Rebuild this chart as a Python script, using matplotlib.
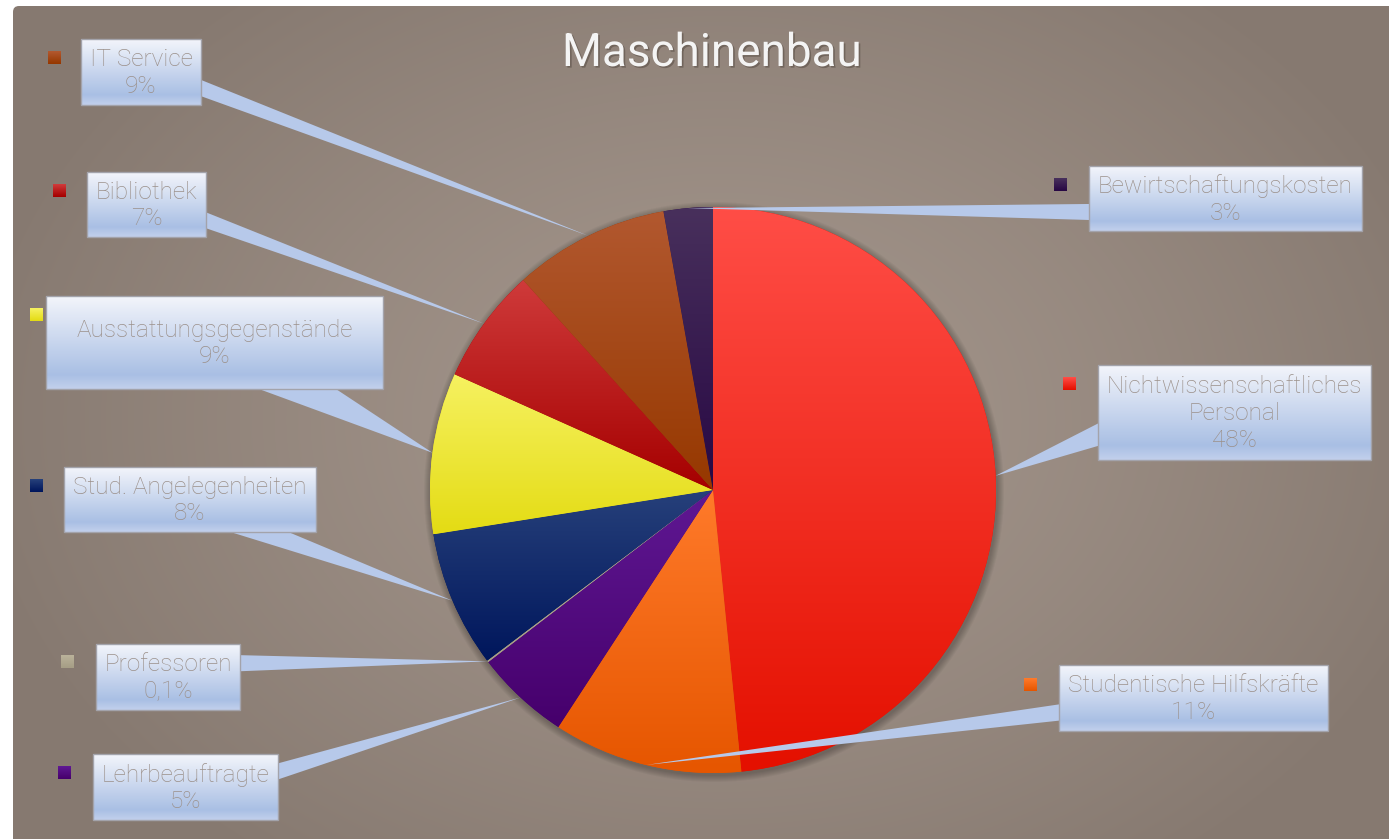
import numpy as np
import matplotlib
matplotlib.use("Agg")
import matplotlib.pyplot as plt
from matplotlib.patches import Rectangle, Polygon, Circle, FancyBboxPatch
from matplotlib import patheffects as pe
from matplotlib.colors import to_rgb

# ---------------- data ----------------
title = "Maschinenbau"
categories = ["Nichtwissenschaftliches\nPersonal", "Studentische Hilfskräfte",
              "Lehrbeauftragte", "Professoren", "Stud. Angelegenheiten",
              "Ausstattungsgegenstände", "Bibliothek", "IT Service",
              "Bewirtschaftungskosten"]
shares = [48.4, 10.8, 5.4, 0.1, 7.8, 9.2, 6.6, 8.9, 2.8]

# ---------------- style / layout ----------------
W, H = 1389, 839
CX, CY, R = 713, 490, 283
slice_light = ["#ff4d46", "#ff7a2a", "#5f1893", "#bab29a", "#26407a",
               "#f6f160", "#cf3a3a", "#b2582f", "#48305c"]
slice_dark = ["#e41000", "#e65600", "#46006c", "#a69e86", "#00165c",
              "#e4dc14", "#a50000", "#963800", "#280844"]
# label boxes (x0, y0, x1, y1) in pixel coords, marker top-left, pointer side
boxes = [(1098, 365, 1371, 460), (1059, 665, 1328, 731), (93, 754, 278, 820),
         (96, 644, 240, 710), (64, 467, 316, 532), (46, 296, 383, 389),
         (87, 172, 206, 237), (81, 39, 201, 105), (1089, 166, 1362, 231)]
markers = [(1063, 377), (1024, 678), (58, 766), (61, 655), (30, 479),
           (30, 308), (53, 184), (48, 51), (1054, 178)]
sides = ["L", "L", "R", "R", "B", "B", "R", "R", "L"]

TEXT_COLOR = "#9b908a"
FONT = ["Roboto", "DejaVu Sans"]


def fmt(v):
    if v < 1:
        return f"{v:.1f}".replace(".", ",") + "%"
    return f"{round(v)}%"


fig = plt.figure(figsize=(W / 100, H / 100), dpi=100)
fig.patch.set_facecolor("white")
ax = fig.add_axes([0, 0, 1, 1])
ax.set_axis_off()

# ---------------- background ----------------
yy, xx = np.mgrid[0:H, 0:W]
d = np.sqrt(((xx - 720) / 760.0) ** 2 + ((yy - 420) / 560.0) ** 2)
d = np.clip(d, 0, 1) ** 1.3
inner = np.array(to_rgb("#a4968c"))
outer = np.array(to_rgb("#867970"))
bg = inner[None, None, :] * (1 - d[..., None]) + outer[None, None, :] * d[..., None]
bg_im = ax.imshow(bg, extent=(0, W, H, 0), aspect="auto", zorder=0,
                  interpolation="bilinear")
bg_clip = FancyBboxPatch((13, 6), W - 13 + 20, H, boxstyle="round,pad=0,rounding_size=6",
                         transform=ax.transData, facecolor="none", edgecolor="none")
ax.add_patch(bg_clip)
bg_im.set_clip_path(bg_clip)

# ---------------- pie shadow ----------------
for k in range(1, 8):
    ax.add_patch(Circle((CX + 1, CY + 2), R + k, facecolor="black",
                        edgecolor="none", alpha=0.035, zorder=0.5))

# ---------------- pie ----------------
wedges, _ = ax.pie(shares, colors=slice_dark, startangle=-90, counterclock=True,
                   center=(CX, CY), radius=R,
                   wedgeprops=dict(linewidth=0, antialiased=True))
for w, cl, cd in zip(wedges, slice_light, slice_dark):
    w.set_zorder(1)
    bb = w.get_path().get_extents()
    t = np.linspace(0, 1, 64)[:, None, None]
    grad = np.array(to_rgb(cl))[None, None, :] * (1 - t) + np.array(to_rgb(cd))[None, None, :] * t
    grad = np.repeat(grad, 2, axis=1)
    im = ax.imshow(grad, extent=(bb.x0, bb.x1, bb.y1, bb.y0), aspect="auto",
                   zorder=2, interpolation="bilinear")
    im.set_clip_path(w)

# ---------------- callouts ----------------
box_stops = [(0.0, "#f3f5fb"), (0.85, "#a9bfe4"), (1.0, "#c2d0ec")]


def box_gradient(n=100):
    t = np.linspace(0, 1, n)
    out = np.zeros((n, 2, 3))
    for i, tv in enumerate(t):
        for (a, ca), (b, cb) in zip(box_stops[:-1], box_stops[1:]):
            if a <= tv <= b:
                f = (tv - a) / (b - a)
                out[i, :, :] = np.array(to_rgb(ca)) * (1 - f) + np.array(to_rgb(cb)) * f
                break
    return out


bgrad = box_gradient()

for w, lab, v, (x0, y0, x1, y1), (mx, my), side, cl, cd in zip(
        wedges, categories, shares, boxes, markers, sides, slice_light, slice_dark):
    mid = np.deg2rad((w.theta1 + w.theta2) / 2)
    tip = (CX + R * np.cos(mid), CY + R * np.sin(mid))
    bw, bh = x1 - x0, y1 - y0
    bxc, byc = (x0 + x1) / 2, (y0 + y1) / 2
    if side in ("L", "R"):
        fr = (7 / 12, 10 / 12) if tip[1] > byc else (2 / 12, 5 / 12)
        ex = x0 if side == "L" else x1
        inset = 6 if side == "L" else -6
        p1 = (ex + inset, y0 + fr[0] * bh)
        p2 = (ex + inset, y0 + fr[1] * bh)
    else:
        fr = (7 / 12, 10 / 12) if tip[0] > bxc else (2 / 12, 5 / 12)
        ey = y1 if side == "B" else y0
        inset = -6 if side == "B" else 6
        p1 = (x0 + fr[0] * bw, ey + inset)
        p2 = (x0 + fr[1] * bw, ey + inset)
    ax.add_patch(Polygon([p1, p2, tip], closed=True, facecolor="#b7c9ea",
                         edgecolor="none", zorder=3))
    # box
    ax.imshow(bgrad, extent=(x0, x1, y1, y0), aspect="auto", zorder=4,
              interpolation="bilinear")
    ax.add_patch(Rectangle((x0, y0), bw, bh, facecolor="none",
                           edgecolor="#a3a3ab", linewidth=1.0, zorder=4.5))
    ax.text(bxc, byc + 1, f"{lab}\n{fmt(v)}", ha="center", va="center",
            multialignment="center", fontsize=17.6, color=TEXT_COLOR,
            family=FONT, fontweight="light", linespacing=1.21, zorder=5)
    # legend marker
    mg = np.array(to_rgb(cl))[None, None, :] * (1 - np.linspace(0, 1, 16)[:, None, None]) \
        + np.array(to_rgb(cd))[None, None, :] * np.linspace(0, 1, 16)[:, None, None]
    ax.imshow(np.repeat(mg, 2, axis=1), extent=(mx, mx + 13, my + 13, my),
              aspect="auto", zorder=5, interpolation="bilinear")

# ---------------- title ----------------
ax.text(712, 53, title, ha="center", va="center", fontsize=33, color="#f4f4f4",
        family=FONT, zorder=6,
        path_effects=[pe.withSimplePatchShadow(offset=(1.2, -1.2),
                                               shadow_rgbFace="#4a4038", alpha=0.45)])

ax.set_xlim(0, W)
ax.set_ylim(H, 0)
ax.set_aspect("auto")
fig.savefig("out.png", dpi=100, facecolor="white")
